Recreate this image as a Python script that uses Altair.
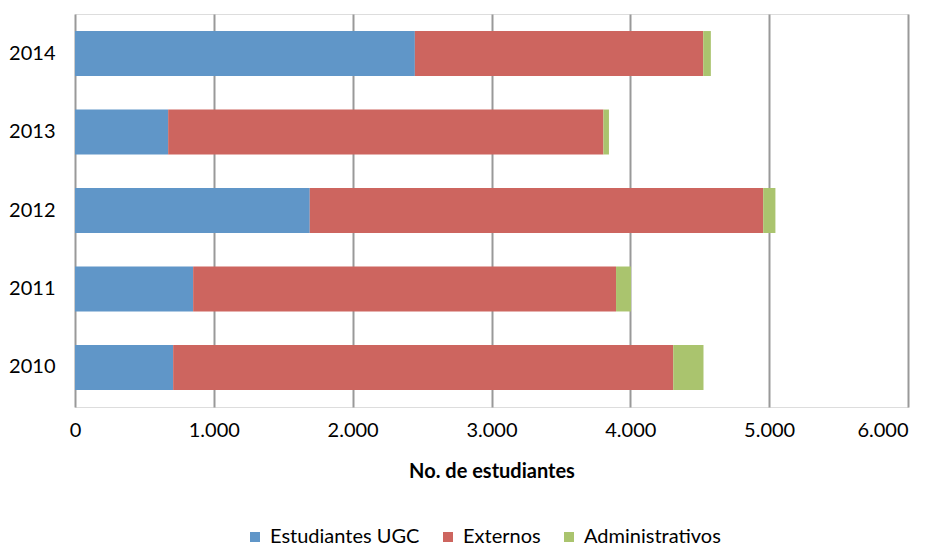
import altair as alt
import pandas as pd

years = ["2014", "2013", "2012", "2011", "2010"]
categories = ["Estudiantes UGC", "Externos", "Administrativos"]
ugc = [2448, 671, 1691, 851, 707]
externos = [2077, 3135, 3266, 3046, 3602]
administrativos = [55, 40, 88, 108, 218]
colors = ["#6096C8", "#CD655F", "#AAC46E"]
x_ticks = [0, 1000, 2000, 3000, 4000, 5000, 6000]

rows = []
for i, y in enumerate(years):
    for k, (cat, vals) in enumerate(zip(categories, [ugc, externos, administrativos])):
        rows.append({"year": y, "cat": cat, "value": vals[i], "ord": k})
df = pd.DataFrame(rows)

FONT = "Lato"

chart = alt.Chart(df).mark_bar().encode(
    y=alt.Y("year:N", sort=years,
            scale=alt.Scale(paddingInner=0.427, paddingOuter=0.217),
            axis=alt.Axis(title=None, labelFontSize=20, labelPadding=20, ticks=False,
                          domain=False, labelColor="#000", labelFont=FONT)),
    x=alt.X("value:Q", stack="zero",
            scale=alt.Scale(domain=[0, 6000], nice=False),
            axis=alt.Axis(values=x_ticks, title="No. de estudiantes",
                          labelExpr="replace(format(datum.value, ','), ',', '.')",
                          labelFlush=False,
                          labelAlign={"condition": {"test": "datum.value >= 6000", "value": "right"},
                                      "value": "center"},
                          grid=True, gridColor="#999999", gridWidth=2,
                          domain=False, ticks=False, labelFontSize=20, labelPadding=13,
                          labelColor="#000", labelFont=FONT,
                          titleFont=FONT, titleFontSize=20, titleFontWeight="bold",
                          titleColor="#000", titlePadding=21)),
    color=alt.Color("cat:N", scale=alt.Scale(domain=categories, range=colors),
                    legend=alt.Legend(title=None, orient="none", direction="horizontal",
                                      legendX=170, legendY=513, symbolType="square",
                                      symbolSize=100, symbolStrokeWidth=0,
                                      labelFontSize=20, labelFont=FONT, labelColor="#000",
                                      labelOffset=5, columnPadding=18)),
    order=alt.Order("ord:Q"),
).properties(
    width=833, height=393,
    autosize=alt.AutoSizeParams(type="none"),
    padding={"left": 67, "top": 6, "right": 20, "bottom": 143},
).configure_view(stroke=None).configure(background="white")

chart.save("out.html", embed_options={"renderer": "svg", "actions": False})
